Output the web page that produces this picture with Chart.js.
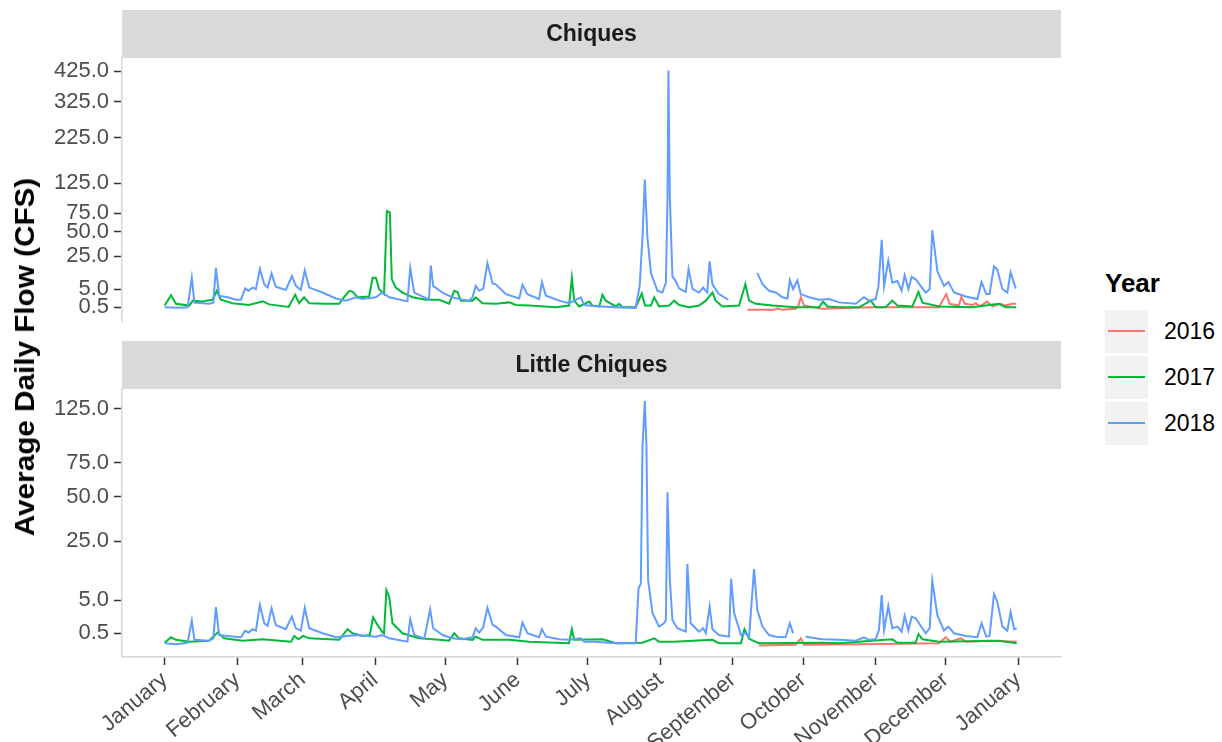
<!DOCTYPE html>
<html>
<head>
<meta charset="utf-8">
<script src="https://cdn.jsdelivr.net/npm/chart.js@4.4.1/dist/chart.umd.min.js"></script>
<style>
  body { margin: 0; background: #fff; font-family: "Liberation Sans", Arial, sans-serif; }
  #wrap { position: relative; width: 1222px; height: 742px; overflow: hidden; }
  canvas { position: absolute; left: 0; }
  #ytitle { position: absolute; left: 25px; top: 357px; transform: translate(-50%, -50%) rotate(-90deg) scaleX(1.06);
    white-space: nowrap; font-weight: bold; font-size: 28px; color: #000; }
  .lg { position: absolute; white-space: nowrap; }
  .ltitle { left: 1105px; top: 268px; font-weight: bold; font-size: 26px; color: #000; }
  .lkey { left: 1105px; width: 43px; height: 43px; background: #F2F2F2; }
  .lkey span { position: absolute; left: 3px; right: 3px; top: 20px; height: 2px; }
  .ltext { left: 1164px; font-size: 23px; color: #000; line-height: 43px; }
</style>
</head>
<body>
<div id="wrap">
  <canvas id="topPanel" width="1070" height="340" style="top:0"></canvas>
  <canvas id="bottomPanel" width="1070" height="402" style="top:340px"></canvas>
  <div id="ytitle">Average Daily Flow (CFS)</div>
  <div id="legend"></div>
</div>
<script>
//DATOS
const years = ["2016", "2017", "2018"];
const yearColors = ["#F8766D", "#00BA38", "#619CFF"];

const monthDays = [0, 31, 59, 90, 120, 151, 181, 212, 243, 273, 304, 334, 365];
const monthLabels = ["January", "February", "March", "April", "May", "June", "July",
  "August", "September", "October", "November", "December", "January"];

const chiquesTicks = [0.5, 5, 25, 50, 75, 125, 225, 325, 425];
const littleTicks = [0.5, 5, 25, 50, 75, 125];

// Chiques
const chiques2016Day = [249.2, 260.6, 262, 264.1, 269.8, 271, 272, 273.4, 281.2, 302.6, 312.6, 331.1, 332.8, 334.2, 335.6, 339.6, 340.6, 342.2, 345.3, 346.8, 348.5, 351.7, 353.9, 357.4, 359.6, 362.4, 364];
const chiques2016Flow = [0.24, 0.24, 0.39, 0.24, 0.33, 0.72, 2.4, 0.72, 0.33, 0.5, 0.5, 0.5, 1.8, 3.3, 1.0, 0.72, 2.4, 1.0, 0.8, 1.1, 0.6, 1.4, 0.6, 1.0, 0.72, 1.0, 1.0];

const chiques2017Day = [0, 2.7, 4.8, 10.5, 12, 16, 17.6, 20.5, 22.3, 24, 29, 36, 42, 44.7, 53, 55.8, 57.5, 59.6, 61.8, 69, 74.6, 76.8, 79, 80.3, 82.5, 87.4, 88.9, 90.3, 91.7, 93.8, 95, 96.3, 97.1, 98.8, 101.7, 106, 111.7, 117.4, 121.6, 123.8, 125.2, 126.6, 131.6, 133, 135.9, 141.6, 147.3, 150.1, 155.8, 167.2, 172.9, 174.1, 175.1, 177.2, 181.5, 182.9, 185.8, 187.2, 188.6, 192.9, 194.3, 195.7, 201.4, 204, 205.4, 207.9, 209.3, 211.4, 215.7, 217.8, 220, 224.2, 228.5, 231.4, 234.2, 235.6, 238.5, 245.6, 248.3, 249.9, 252.7, 259.9, 269.8, 279.8, 281.5, 283.4, 288.3, 296.9, 301.9, 304, 308.3, 311.1, 313.3, 319.7, 322.3, 324, 331.1, 345.3, 356.7, 359.6, 364];
const chiques2017Flow = [0.72, 3.0, 1.0, 0.72, 1.6, 1.4, 1.6, 1.8, 4.4, 1.8, 1.1, 0.8, 1.45, 0.9, 0.54, 3.1, 1.1, 2.4, 1.1, 1.0, 1.0, 2.5, 4.4, 4.1, 2.4, 2.6, 10.2, 10.2, 5.0, 3.3, 78, 76, 9.4, 5.6, 3.8, 2.4, 1.8, 1.8, 1.0, 4.4, 4.0, 1.6, 1.6, 2.4, 1.1, 1.0, 1.25, 0.8, 0.72, 0.5, 0.72, 10.2, 1.6, 0.6, 1.4, 0.72, 0.6, 3.1, 1.6, 0.6, 1.0, 0.5, 0.5, 3.5, 0.72, 0.72, 2.4, 0.6, 0.72, 1.6, 0.8, 0.5, 0.72, 1.6, 3.8, 1.6, 0.6, 0.72, 7.0, 1.6, 1.0, 0.72, 0.5, 0.5, 1.4, 0.6, 0.5, 0.5, 1.6, 0.5, 0.5, 1.6, 0.72, 0.6, 4.0, 1.2, 0.6, 0.5, 1.0, 0.5, 0.5];

const chiques2018Day = [0, 4.8, 9.8, 11.6, 12.7, 19, 20.8, 21.9, 23.3, 26.9, 30.5, 32.6, 34.4, 35.8, 37.6, 39, 40.7, 42.6, 44, 45.7, 47.5, 51.8, 54.4, 56.1, 58.2, 59.9, 61.8, 67.5, 73.2, 77.5, 81.7, 84.6, 90.3, 93.1, 96, 103.8, 105, 106.7, 111, 113, 113.8, 114.8, 117.4, 118.8, 123, 127.3, 130.2, 131.6, 133, 134.5, 136.2, 138, 140.2, 141.6, 145.9, 151.6, 153, 155.1, 160.1, 161.3, 163, 168.7, 172.9, 177.9, 179.4, 184.3, 192.9, 201.4, 203.1, 204.3, 205.3, 206.4, 207.9, 210.7, 212.8, 214.3, 215, 215.4, 216, 217.1, 218.5, 220, 222.8, 224, 225.7, 228.5, 230.2, 232, 233, 234.2, 237, 241, 247, 253.4, 255.6, 258.4, 261.3, 264.1, 266.3, 267.3, 268.7, 270.5, 272, 275.5, 279.8, 284.1, 288.3, 295.5, 299, 301.2, 304, 305.2, 306.6, 307.6, 309.4, 311.1, 313.3, 315.1, 316.4, 318, 319.4, 321.1, 325.4, 327.1, 328.2, 330.4, 333.2, 335.1, 337.5, 342.5, 347.5, 349.3, 351.3, 352.7, 354.6, 356, 358.2, 360.3, 361.7, 363.9];
const chiques2018Flow = [0.5, 0.45, 0.5, 10.2, 1.2, 1.0, 1.2, 16.2, 2.8, 2.4, 1.8, 1.8, 5.3, 4.4, 5.6, 5.0, 15.5, 7.0, 5.6, 12.6, 6.0, 4.7, 11.1, 6.3, 4.7, 14.5, 5.6, 3.8, 2.1, 1.6, 2.4, 2.0, 2.4, 3.8, 2.4, 1.45, 16.2, 3.8, 2.4, 1.8, 17.8, 6.3, 4.6, 3.8, 2.4, 1.8, 1.6, 2.4, 6.3, 4.4, 5.2, 19.7, 7.4, 7.0, 3.3, 2.1, 6.8, 3.3, 1.95, 8.0, 2.8, 1.6, 1.1, 2.4, 0.8, 0.62, 0.5, 0.43, 6.3, 44, 132, 44, 13, 4.4, 3.8, 7.7, 99, 428, 99, 11, 8.5, 5.2, 4.0, 15.5, 5.0, 3.8, 5.6, 3.8, 21, 7.0, 3.3, 1.8, null, 13, 7.0, 4.4, 3.8, 2.4, 2.1, 9.0, 5.0, 8.8, 3.3, 2.4, 1.8, 1.95, 1.25, 1.0, 2.4, 1.6, 1.95, 6.3, 41, 6.3, 21.5, 7.7, 8.5, 4.4, 11.5, 5.0, 10.7, 9.4, 3.8, 5.0, 52, 14, 6.3, 8.0, 3.8, 2.6, 1.95, 8.0, 3.3, 3.3, 17.3, 15.1, 5.0, 3.8, 13.4, 5.2];

// Little Chiques
const little2016Day = [254.1, 269.8, 272, 273.4, 295.5, 331.1, 333.9, 336, 340.4, 342.5, 352.4, 364.3];
const little2016Flow = [0.017, 0.03, 0.22, 0.03, 0.04, 0.06, 0.27, 0.1, 0.22, 0.1, 0.13, 0.1];

const little2017Day = [0, 2.7, 4.8, 10.5, 19, 22.6, 25.5, 33.3, 41.8, 54, 55.4, 57.2, 59.2, 61.8, 74.6, 78.2, 80.3, 84.6, 87.7, 89.1, 91, 92.9, 93.8, 94.8, 96, 97.4, 101.7, 108.8, 117.4, 121.6, 123.8, 125.9, 131.6, 133, 135.9, 147.3, 155.8, 172.9, 174.1, 175.1, 187.2, 192.9, 204.3, 209.3, 211.4, 217.8, 234.2, 237, 246.4, 247.9, 249.9, 254.1, 281.2, 288.3, 311.1, 313.3, 321.1, 322.3, 324, 331.1, 356.7, 364.3];
const little2017Flow = [0.07, 0.27, 0.16, 0.1, 0.13, 0.54, 0.22, 0.13, 0.18, 0.1, 0.34, 0.18, 0.34, 0.22, 0.16, 0.8, 0.5, 0.34, 0.39, 2.1, 1.2, 0.61, 0.5, 7.4, 5.8, 1.37, 0.5, 0.22, 0.16, 0.13, 0.5, 0.22, 0.16, 0.3, 0.16, 0.16, 0.1, 0.06, 0.8, 0.16, 0.18, 0.06, 0.07, 0.22, 0.1, 0.1, 0.16, 0.06, 0.06, 0.8, 0.2, 0.06, 0.07, 0.06, 0.18, 0.07, 0.07, 0.45, 0.18, 0.1, 0.13, 0.06];

const little2018Day = [0, 4.8, 9.8, 11.6, 12.7, 19, 20.8, 21.9, 23.3, 26.9, 32.6, 34.4, 35.8, 37.6, 39, 40.7, 42.6, 44, 45.7, 47.5, 51.8, 54.4, 56.1, 58.2, 59.9, 61.8, 67.5, 73.2, 81.7, 90.3, 93.1, 96, 103.8, 105, 106.7, 111, 113.5, 114.8, 118.8, 123, 127.3, 131.6, 133, 134.5, 136.2, 138, 140.2, 141.6, 145.9, 151.6, 153, 155.1, 160.1, 161.3, 163, 168.7, 172.9, 177.9, 179.4, 184.3, 192.9, 201.4, 202.6, 203.6, 204.3, 205.3, 206, 206.7, 208.6, 211.4, 213.5, 214.3, 215, 216, 217.1, 219.2, 222.8, 223.5, 224.9, 228.5, 230.2, 231.4, 233, 234.2, 237, 241.3, 242.2, 243.5, 246.4, 248.4, 249.9, 252, 253.4, 255.6, 258.4, 261.3, 265.5, 267.3, 268.7, 271, 274.1, 281.2, 288.3, 295.5, 299, 301.2, 304, 305.4, 306.6, 307.6, 309.4, 311.1, 313.3, 315.1, 316.4, 318, 319.4, 321.1, 325.4, 327.1, 328.2, 330.4, 333.2, 335.1, 337.5, 342.5, 347.5, 349.3, 351.3, 352.7, 354.6, 356, 358.2, 360.3, 361.7, 363.2, 364.3];
const little2018Flow = [0.06, 0.04, 0.07, 1.68, 0.16, 0.13, 0.22, 3.7, 0.39, 0.34, 0.27, 0.69, 0.54, 0.8, 0.69, 4.1, 1.37, 1.1, 3.5, 1.2, 0.8, 2.2, 0.88, 0.69, 3.6, 0.88, 0.5, 0.27, 0.39, 0.3, 0.39, 0.22, 0.1, 1.84, 0.39, 0.22, 3.3, 0.88, 0.39, 0.22, 0.18, 0.27, 0.88, 0.54, 0.97, 3.6, 1.2, 1.03, 0.39, 0.27, 1.45, 0.5, 0.27, 0.8, 0.3, 0.18, 0.16, 0.22, 0.1, 0.1, 0.06, 0.06, 7.8, 9.2, 88, 133, 88, 10.2, 2.7, 1.03, 1.37, 1.76, 53, 10.2, 1.76, 0.88, 0.61, 15.5, 1.37, 0.61, 0.88, 0.5, 3.8, 0.8, 0.39, 0.3, 10.5, 2.7, 0.39, 0.5, 0.3, 13.7, 3.2, 1.03, 0.39, 0.3, 0.27, 1.37, 0.5, null, 0.3, 0.18, 0.16, 0.13, 0.27, 0.16, 0.18, 0.74, 6.2, 0.74, 3.9, 0.88, 1.03, 0.61, 2.3, 0.69, 2.2, 1.97, 0.5, 0.88, 9.9, 2.4, 0.69, 1.03, 0.5, 0.34, 0.27, 1.37, 0.3, 0.34, 6.4, 4.75, 1.03, 0.69, 2.9, 0.8, 0.88];

//FUNCIONES
const FONT = '"Liberation Sans", Arial, sans-serif';
Chart.defaults.font.family = FONT;

// eje raiz cuadrada: se grafica sqrt(caudal) sobre un eje lineal
function toPoints(days, flows) {
  return days.map((d, i) => ({ x: d, y: flows[i] === null ? null : Math.sqrt(flows[i]) }));
}

function makeDatasets(series) {
  return series.map((s, i) => ({
    label: years[i],
    data: toPoints(s[0], s[1]),
    borderColor: yearColors[i],
    backgroundColor: yearColors[i],
    borderWidth: 2,
    pointRadius: 0,
    tension: 0,
    spanGaps: false,
    order: 2 - i,
  }));
}

const stripPlugin = {
  id: "strip",
  beforeDraw(chart, args, opts) {
    const { ctx, chartArea } = chart;
    ctx.save();
    ctx.fillStyle = "#D9D9D9";
    ctx.fillRect(chartArea.left, opts.top, chartArea.right - chartArea.left, chartArea.top - opts.top);
    ctx.fillStyle = "#1A1A1A";
    ctx.font = "bold 23px " + FONT;
    ctx.textAlign = "center";
    ctx.textBaseline = "middle";
    ctx.fillText(opts.text, (chartArea.left + chartArea.right) / 2, (opts.top + chartArea.top) / 2 + 1);
    ctx.restore();
  },
};

function makePanel(id, title, stripTop, series, yMin, yMax, tickVals, showX, padTop, padBottom) {
  const config = {
    type: "line",
    data: { datasets: makeDatasets(series) },
    plugins: [stripPlugin],
    options: {
      responsive: false,
      animation: false,
      devicePixelRatio: 1,
      layout: { padding: { top: padTop, bottom: padBottom, left: 0, right: 9 } },
      plugins: {
        legend: { display: false },
        tooltip: { enabled: false },
        strip: { text: title, top: stripTop },
      },
      scales: {
        x: {
          type: "linear",
          display: showX,
          min: -18.25,
          max: 383.25,
          afterBuildTicks: (scale) => {
            scale.ticks = monthDays.map((v) => ({ value: v }));
          },
          afterFit: (scale) => {
            scale.height = showX ? 85 : 0;
          },
          ticks: {
            autoSkip: false,
            minRotation: 40,
            maxRotation: 40,
            color: "#4D4D4D",
            font: { size: 22 },
            padding: 2,
            callback: (value, index) => monthLabels[index],
          },
          grid: { drawOnChartArea: false, tickLength: 8, tickColor: "#333333", tickWidth: 1.5 },
          border: { display: true, color: "#D6D6D6", width: 1.5 },
        },
        y: {
          type: "linear",
          min: yMin,
          max: yMax,
          afterBuildTicks: (scale) => {
            scale.ticks = tickVals.map((t) => ({ value: Math.sqrt(t) }));
          },
          afterFit: (scale) => {
            scale.width = 122;
          },
          ticks: {
            autoSkip: false,
            color: "#4D4D4D",
            font: { size: 22 },
            padding: 5,
            callback: (value) => (value * value).toFixed(1),
          },
          grid: { drawOnChartArea: false, tickLength: 8, tickColor: "#333333", tickWidth: 1.5 },
          border: { display: true, color: "#D6D6D6", width: 1.5 },
        },
      },
    },
  };
  return new Chart(document.getElementById(id), config);
}

function buildLegend() {
  const lg = document.getElementById("legend");
  let html = '<div class="lg ltitle">Year</div>';
  years.forEach((y, i) => {
    const top = 310 + i * 46;
    html += `<div class="lg lkey" style="top:${top}px"><span style="background:${yearColors[i]}"></span></div>`;
    html += `<div class="lg ltext" style="top:${top}px">${y}</div>`;
  });
  lg.innerHTML = html;
}

//EVENTOS
makePanel("topPanel", "Chiques", 10,
  [[chiques2016Day, chiques2016Flow], [chiques2017Day, chiques2017Flow], [chiques2018Day, chiques2018Flow]],
  -0.52, 21.74, chiquesTicks, false, 58, 13);
makePanel("bottomPanel", "Little Chiques", 1,
  [[little2016Day, little2016Flow], [little2017Day, little2017Flow], [little2018Day, little2018Flow]],
  -0.40, 12.09, littleTicks, true, 49, 0);
buildLegend();
</script>
</body>
</html>
